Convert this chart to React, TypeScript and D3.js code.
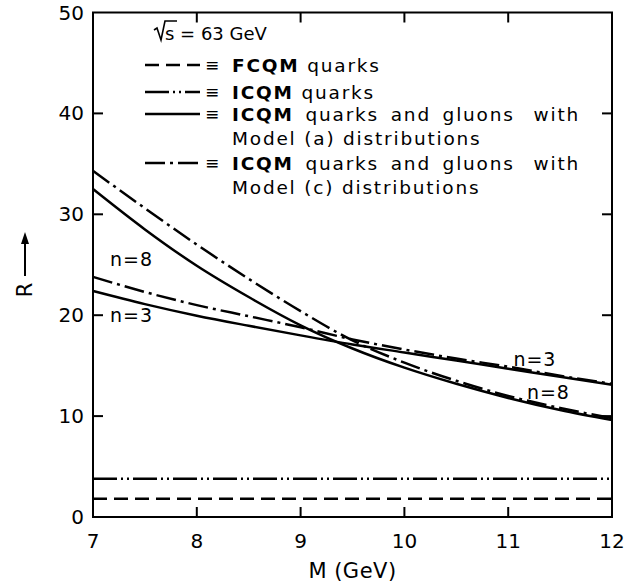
import * as d3 from 'd3';

// Mass points (GeV) at which the curves are read
const massGeV = [7, 7.5, 8, 8.5, 9, 9.5, 10, 10.5, 11, 11.5, 12];

// ICQM quarks + gluons, Model (a) distributions (solid)
const modelA_n8 = [32.5, 28.5, 24.9, 21.8, 19.0, 16.7, 14.8, 13.2, 11.8, 10.6, 9.6];
const modelA_n3 = [22.4, 21.1, 19.95, 18.95, 18.0, 17.1, 16.3, 15.5, 14.7, 13.9, 13.1];

// ICQM quarks + gluons, Model (c) distributions (dash-dot)
const modelC_n8 = [34.3, 30.6, 27.0, 23.6, 20.4, 17.5, 15.3, 13.5, 12.0, 10.8, 9.8];
const modelC_n3 = [23.8, 22.3, 21.0, 19.9, 18.8, 17.6, 16.6, 15.7, 14.9, 14.0, 13.2];

// flat levels
const fcqmQuarks = 1.8;
const icqmQuarks = 3.8;

const xTicks = [7, 8, 9, 10, 11, 12];
const yTicks = [0, 10, 20, 30, 40, 50];

const legendItems = [
  { dash: '14,7', bold: 'FCQM', rest: ' quarks', tail: null, sub: null },
  { dash: '24,4,2,4,2,4', bold: 'ICQM', rest: ' quarks', tail: null, sub: null },
  { dash: null, bold: 'ICQM', rest: ' quarks and gluons', tail: 'with', sub: 'Model (a) distributions' },
  { dash: '20,5,3,5', bold: 'ICQM', rest: ' quarks and gluons', tail: 'with', sub: 'Model (c) distributions' },
];

export default function App() {
  const margin = { top: 12.5, right: 12, bottom: 67, left: 93 };
  const W = 624;
  const H = 584;
  const width = W - margin.left - margin.right;
  const height = H - margin.top - margin.bottom;

  const x = d3.scaleLinear().domain([7, 12]).range([0, width]);
  const y = d3.scaleLinear().domain([0, 50]).range([height, 0]);

  const line = d3.line<number>()
    .x((_, i) => x(massGeV[i]))
    .y(d => y(d))
    .curve(d3.curveMonotoneX);

  const font = '"DejaVu Sans", sans-serif';
  const tickLen = 10;

  const curves = [
    { values: modelA_n8, dash: null },
    { values: modelA_n3, dash: null },
    { values: modelC_n8, dash: '20,5,3,5' },
    { values: modelC_n3, dash: '20,5,3,5' },
  ];

  const legendText = { fontSize: 18.5, letterSpacing: 1.8 };

  return (
    <svg width={W} height={H} style={{ position: 'absolute', left: 0, top: 0, background: '#fff' }}
      fontFamily={font}>
      <g transform={`translate(${margin.left},${margin.top})`}>
        {/* flat lines */}
        <line x1={x(7)} x2={x(12)} y1={y(fcqmQuarks)} y2={y(fcqmQuarks)}
          stroke="#000" strokeWidth={2.5} strokeDasharray="14,7" />
        <line x1={x(7)} x2={x(12)} y1={y(icqmQuarks)} y2={y(icqmQuarks)}
          stroke="#000" strokeWidth={2.5} strokeDasharray="24,4,2,4,2,4" />

        {curves.map((c, i) => (
          <path key={i} d={line(c.values) || ''} fill="none" stroke="#000" strokeWidth={2.5}
            strokeDasharray={c.dash || undefined} />
        ))}

        {/* frame */}
        <rect x={0} y={0} width={width} height={height} fill="none" stroke="#000" strokeWidth={2} />

        {/* ticks */}
        {xTicks.slice(1, -1).map(t => (
          <g key={'xt' + t}>
            <line x1={x(t)} x2={x(t)} y1={height} y2={height - tickLen} stroke="#000" strokeWidth={2} />
            <line x1={x(t)} x2={x(t)} y1={0} y2={tickLen} stroke="#000" strokeWidth={2} />
          </g>
        ))}
        {yTicks.slice(1, -1).map(t => (
          <g key={'yt' + t}>
            <line x1={0} x2={tickLen} y1={y(t)} y2={y(t)} stroke="#000" strokeWidth={2} />
            <line x1={width} x2={width - tickLen} y1={y(t)} y2={y(t)} stroke="#000" strokeWidth={2} />
          </g>
        ))}

        {/* tick labels */}
        {xTicks.map(t => (
          <text key={'xl' + t} x={x(t)} y={height + 31} textAnchor="middle" fontSize={20}>{t}</text>
        ))}
        {yTicks.map(t => (
          <text key={'yl' + t} x={-9} y={y(t) + 7} textAnchor="end" fontSize={20}>{t}</text>
        ))}

        {/* axis titles */}
        <text x={x(9.5)} y={height + 61} textAnchor="middle" fontSize={21} letterSpacing={0.5}>M (GeV)</text>
        <g transform={`translate(${-68},${y(22.5)})`}>
          <text transform="rotate(-90)" x={0} y={7} textAnchor="middle" fontSize={21}>R</text>
          <line x1={0} x2={0} y1={-14} y2={-50} stroke="#000" strokeWidth={2} />
          <path d="M-4,-46 L0,-58 L4,-46 Z" fill="#000" />
        </g>

        {/* curve labels */}
        <text x={17} y={y(24.9)} fontSize={19} letterSpacing={1}>n=8</text>
        <text x={17} y={y(19.3)} fontSize={19} letterSpacing={1}>n=3</text>
        <text x={x(11.05)} y={y(15.0)} fontSize={19} letterSpacing={1}>n=3</text>
        <text x={x(11.18)} y={y(11.7)} fontSize={19} letterSpacing={1}>n=8</text>

        {/* legend */}
        <g transform={`translate(${155 - margin.left},${33 - margin.top})`}>
          <path d="M-1,-3 L2,-5 L6,7 L10,-12 L22,-12" fill="none" stroke="#000" strokeWidth={1.6} />
          <text x={10} y={7} fontSize={18}>s = 63 GeV</text>
        </g>
        {legendItems.map((it, i) => {
          const ly = [65, 92, 114, 163][i] - margin.top;
          return (
            <g key={'lg' + i}>
              <line x1={145 - margin.left} x2={200 - margin.left} y1={ly} y2={ly}
                stroke="#000" strokeWidth={2.5} strokeDasharray={it.dash || undefined} />
              <text x={205 - margin.left} y={ly + 6} fontSize={17}>≡</text>
              <text x={232 - margin.left} y={ly + 7} {...legendText} wordSpacing={it.tail ? 4 : 0}>
                <tspan fontWeight="bold">{it.bold}</tspan>{it.rest}
              </text>
              {it.tail && (
                <text x={580 - margin.left} y={ly + 7} {...legendText} textAnchor="end">{it.tail}</text>
              )}
              {it.sub && (
                <text x={232 - margin.left} y={ly + 31} {...legendText}>{it.sub}</text>
              )}
            </g>
          );
        })}
      </g>
    </svg>
  );
}
